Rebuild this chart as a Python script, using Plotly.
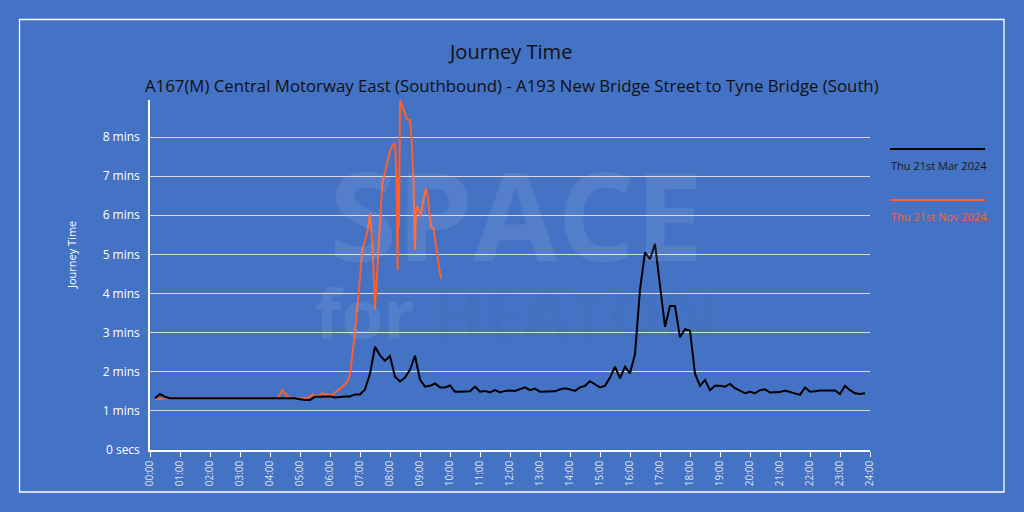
import plotly.graph_objects as go

# ---------------- data ----------------
mar_times = [
    "00:10", "00:20", "00:30", "00:40", "00:50",
    "01:00", "01:10", "01:20", "01:30", "01:40", "01:50",
    "02:00", "02:10", "02:20", "02:30", "02:40", "02:50",
    "03:00", "03:10", "03:20", "03:30", "03:40", "03:50",
    "04:00", "04:10", "04:20", "04:30", "04:40", "04:50",
    "05:00", "05:10", "05:20", "05:30", "05:40", "05:50",
    "06:00", "06:10", "06:20", "06:30", "06:40", "06:50",
    "07:00", "07:10", "07:20", "07:30", "07:40", "07:50",
    "08:00", "08:10", "08:20", "08:30", "08:40", "08:50",
    "09:00", "09:10", "09:20", "09:30", "09:40", "09:50",
    "10:00", "10:10", "10:20", "10:30", "10:40", "10:50",
    "11:00", "11:10", "11:20", "11:30", "11:40", "11:50",
    "12:00", "12:10", "12:20", "12:30", "12:40", "12:50",
    "13:00", "13:10", "13:20", "13:30", "13:40", "13:50",
    "14:00", "14:10", "14:20", "14:30", "14:40", "14:50",
    "15:00", "15:10", "15:20", "15:30", "15:40", "15:50",
    "16:00", "16:10", "16:20", "16:30", "16:40", "16:50",
    "17:00", "17:10", "17:20", "17:30", "17:40", "17:50",
    "18:00", "18:10", "18:20", "18:30", "18:40", "18:50",
    "19:00", "19:10", "19:20", "19:30", "19:40", "19:50",
    "20:00", "20:10", "20:20", "20:30", "20:40", "20:50",
    "21:00", "21:10", "21:20", "21:30", "21:40", "21:50",
    "22:00", "22:10", "22:20", "22:30", "22:40", "22:50",
    "23:00", "23:10", "23:20", "23:30", "23:40", "23:50",
]
mar_mins = [
    1.32, 1.43, 1.36, 1.32, 1.32,
    1.32, 1.32, 1.32, 1.32, 1.32, 1.32,
    1.32, 1.32, 1.32, 1.32, 1.32, 1.32,
    1.32, 1.32, 1.32, 1.32, 1.32, 1.32,
    1.32, 1.32, 1.32, 1.32, 1.32, 1.32,
    1.30, 1.28, 1.28, 1.36, 1.36, 1.37,
    1.37, 1.34, 1.36, 1.37, 1.37, 1.42,
    1.42, 1.55, 1.95, 2.64, 2.42, 2.28,
    2.40, 1.87, 1.75, 1.85, 2.05, 2.41,
    1.80, 1.62, 1.64, 1.70, 1.60, 1.60,
    1.65, 1.49, 1.49, 1.49, 1.50, 1.62,
    1.49, 1.51, 1.47, 1.53, 1.47, 1.51,
    1.52, 1.51, 1.55, 1.60, 1.53, 1.57,
    1.49, 1.49, 1.49, 1.50, 1.55, 1.58,
    1.55, 1.51, 1.60, 1.64, 1.76, 1.68,
    1.60, 1.64, 1.85, 2.13, 1.83, 2.13,
    1.96, 2.45, 4.10, 5.05, 4.88, 5.27,
    4.20, 3.15, 3.68, 3.68, 2.88, 3.09,
    3.05, 1.95, 1.64, 1.79, 1.53, 1.64,
    1.64, 1.62, 1.69, 1.58, 1.52, 1.45,
    1.49, 1.45, 1.53, 1.55, 1.47, 1.47,
    1.48, 1.52, 1.49, 1.45, 1.41, 1.60,
    1.49, 1.50, 1.52, 1.52, 1.52, 1.52,
    1.43, 1.64, 1.53, 1.45, 1.43, 1.45,
]

nov_times = [
    "00:10", "00:20", "00:30", "00:40", "00:50",
    "01:00", "01:30", "02:00", "02:30", "02:40", "02:50", "03:00",
    "03:30", "04:00", "04:15", "04:25", "04:35", "04:45",
    "05:00", "05:10", "05:20", "05:25", "05:30", "05:40", "05:45", "05:50", "05:55",
    "06:00", "06:05", "06:10", "06:15", "06:20", "06:25", "06:30", "06:35",
    "06:40", "06:45", "06:50", "06:55",
    "07:00", "07:05", "07:10", "07:15", "07:20", "07:25", "07:30", "07:35",
    "07:40", "07:45", "07:50", "07:55",
    "08:00", "08:05", "08:10", "08:13", "08:15", "08:17", "08:18", "08:20",
    "08:25", "08:30", "08:35", "08:40", "08:43", "08:47", "08:49", "08:50",
    "08:52", "08:55", "08:58", "09:01", "09:07", "09:12", "09:15", "09:19",
    "09:22", "09:27", "09:30", "09:33", "09:37", "09:40", "09:43",
]
nov_mins = [
    1.30, 1.30, 1.32, 1.32, 1.32,
    1.32, 1.32, 1.32, 1.32, 1.33, 1.33, 1.32,
    1.32, 1.32, 1.32, 1.53, 1.36, 1.32,
    1.32, 1.32, 1.36, 1.42, 1.38, 1.40, 1.45, 1.42, 1.42,
    1.41, 1.42, 1.47, 1.50, 1.55, 1.62, 1.68, 1.75,
    1.92, 2.45, 3.00, 3.70,
    4.40, 5.15, 5.35, 5.60, 6.05, 5.20, 3.62, 4.70,
    5.90, 6.85, 7.10, 7.40,
    7.65, 7.78, 7.84, 7.00, 4.60, 7.00, 5.70, 8.95,
    8.75, 8.60, 8.44, 8.44, 7.93, 6.91, 5.54, 5.12,
    6.14, 6.22, 6.10, 5.97, 6.39, 6.69, 6.52, 6.05,
    5.71, 5.67, 5.37, 5.03, 4.77, 4.52, 4.37,
]

x_tick_hours = list(range(0, 25))
x_tick_labels = ["%02d:00" % h for h in x_tick_hours]
y_tick_vals = [0, 1, 2, 3, 4, 5, 6, 7, 8]
y_tick_labels = ["0 secs"] + ["%d mins" % v for v in y_tick_vals[1:]]

series_names = ["Thu 21st Mar 2024", "Thu 21st Nov 2024"]
series_colors = ["#000000", "#FF602B"]


def to_hours(t):
    h, m = t.split(":")
    return int(h) + int(m) / 60.0


# ---------------- figure ----------------
BG = "#4472C4"
W, H = 1024, 512
L, R, T, B = 150, 870, 100, 450  # plot area in pixels


def px(x):
    return (x - L) / (R - L)


def py(y):
    return (B - y) / (B - T)


fig = go.Figure()
fig.add_trace(go.Scatter(
    x=[to_hours(t) for t in nov_times], y=nov_mins, mode="lines",
    name=series_names[1], line=dict(color=series_colors[1], width=2),
    showlegend=False, hoverinfo="skip"))
fig.add_trace(go.Scatter(
    x=[to_hours(t) for t in mar_times], y=mar_mins, mode="lines",
    name=series_names[0], line=dict(color=series_colors[0], width=2),
    showlegend=False, hoverinfo="skip"))

font_main = "Open Sans"

watermark = ("<span style='font-size:122px'><b>SPACE</b></span><br>"
             "<span style='font-size:68px'><b>for </b></span>"
             "<span style='font-size:68px;color:rgba(25,45,110,0.16)'><b>HEATON</b></span>")

annotations = [
    # watermark
    dict(text=watermark, x=px(516), y=py(245), showarrow=False,
         font=dict(family="Open Sans", size=60, color="rgba(255,255,255,0.09)")),
    # titles
    dict(text="Journey Time", x=px(510), y=py(52), showarrow=False,
         font=dict(family=font_main, size=20, color="#111111")),
    dict(text="A167(M) Central Motorway East (Southbound) - A193 New Bridge Street to Tyne Bridge (South)",
         x=px(512), y=py(86), showarrow=False,
         font=dict(family=font_main, size=16.8, color="#111111")),
    dict(text="Journey Time", x=px(71), y=py(255), showarrow=False, textangle=-90,
         font=dict(family=font_main, size=11, color="#FFFFFF")),
    # legend texts
    dict(text=series_names[0], x=px(889), y=py(165), xanchor="left", showarrow=False,
         font=dict(family=font_main, size=11, color="#1a1a1a")),
    dict(text=series_names[1], x=px(889), y=py(216), xanchor="left", showarrow=False,
         font=dict(family=font_main, size=11, color=series_colors[1])),
]
for a in annotations:
    a["xref"] = "paper"
    a["yref"] = "paper"
    a["yanchor"] = "middle"
    a.setdefault("xanchor", "center")

shapes = [
    dict(type="rect", xref="paper", yref="paper",
         x0=px(19.5), x1=px(1004), y0=py(492), y1=py(19.5),
         line=dict(color="#FFFFFF", width=1.3)),
    dict(type="line", xref="paper", yref="paper",
         x0=px(890), x1=px(985), y0=py(149), y1=py(149),
         line=dict(color=series_colors[0], width=2)),
    dict(type="line", xref="paper", yref="paper",
         x0=px(890), x1=px(985), y0=py(200), y1=py(200),
         line=dict(color=series_colors[1], width=2)),
]

fig.update_layout(
    width=W, height=H,
    margin=dict(l=L, r=W - R, t=T, b=H - B),
    paper_bgcolor=BG, plot_bgcolor=BG,
    annotations=annotations, shapes=shapes,
    showlegend=False,
    xaxis=dict(
        range=[0, 24], tickmode="array", tickvals=x_tick_hours, ticktext=x_tick_labels,
        tickangle=-90, ticks="outside", ticklen=5, tickcolor="#FFFFFF", tickwidth=1,
        showline=True, linecolor="#FFFFFF", linewidth=1.5,
        showgrid=False, zeroline=False,
        tickfont=dict(family=font_main, size=10, color="#DDE3EE"),
        fixedrange=True,
    ),
    yaxis=dict(
        range=[0, 8.946], tickmode="array", tickvals=y_tick_vals, ticktext=y_tick_labels,
        ticks="", showline=True, linecolor="#FFFFFF", linewidth=1.5,
        showgrid=True, gridcolor="#D9D9D9", gridwidth=1, zeroline=False,
        tickfont=dict(family=font_main, size=12, color="#FFFFFF"),
        ticklabelstandoff=6,
        fixedrange=True,
    ),
)

fig.write_html("out.html")
